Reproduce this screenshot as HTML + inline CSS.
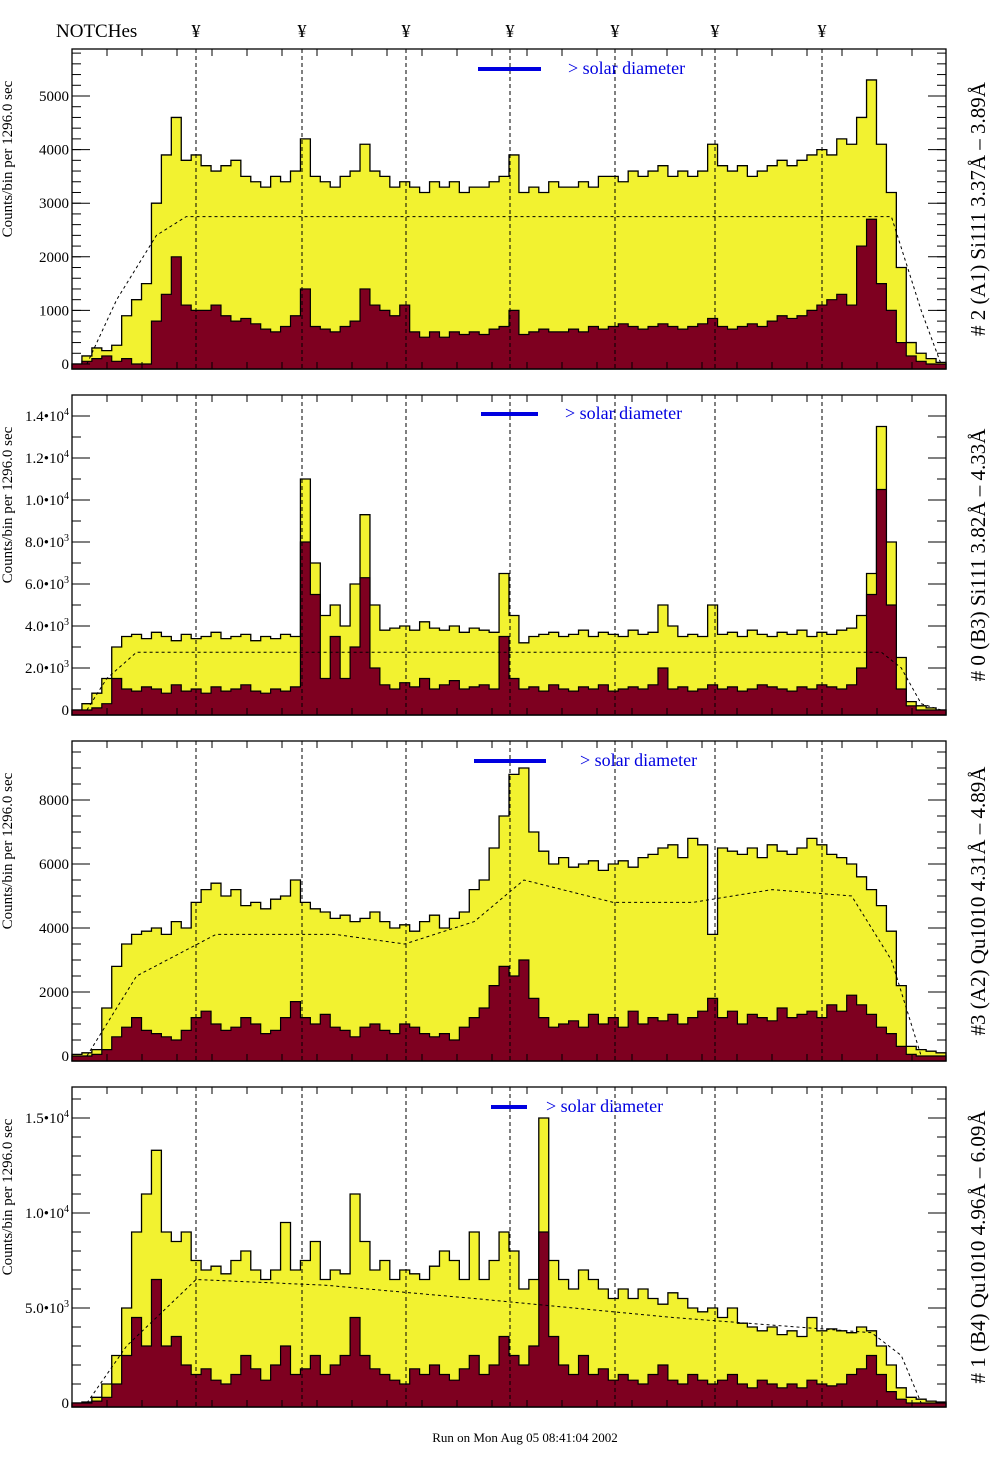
<!DOCTYPE html>
<html><head><meta charset="utf-8"><style>
body{margin:0;background:#fff;width:1004px;height:1476px;overflow:hidden}
svg{display:block}
text{font-family:"Liberation Serif",serif}
</style></head><body>
<svg id="c" width="1004" height="1476" viewBox="0 0 1004 1476"></svg>
<script>
const NS="http://www.w3.org/2000/svg";
const svg=document.getElementById('c');
const notchLabels=["¥","¥","¥","¥","¥","¥","¥"];
const notchX=[196,302,406,510,615,715,822];
// Panel 1
const y1=[0,150,300,250,350,900,1200,1500,3000,3900,4600,3800,3900,3700,3600,3700,3800,3500,3400,3300,3500,3400,3600,4200,3500,3400,3300,3500,3600,4100,3600,3500,3300,3400,3300,3200,3400,3300,3400,3200,3300,3300,3400,3500,3900,3200,3300,3200,3400,3300,3300,3400,3300,3500,3500,3400,3600,3500,3600,3700,3500,3600,3500,3600,4100,3700,3600,3700,3500,3600,3700,3800,3700,3800,3900,4000,3900,4200,4100,4600,5300,4100,3200,1800,400,200,100,30];
const r1=[0,50,100,150,50,100,0,0,800,1300,2000,1100,1000,1000,1100,900,800,850,750,650,600,700,900,1400,700,650,600,700,800,1400,1100,1000,900,1100,600,500,600,500,600,550,600,550,650,700,1000,550,600,650,600,600,650,600,700,650,700,750,700,650,700,750,700,650,700,750,850,700,650,700,750,700,800,900,850,900,1000,1100,1200,1300,1100,2200,2700,1500,1000,400,150,50,0,0];
const e1Bins=[1,4,8,11,82,85,87];
const e1Vals=[0,1200,2400,2750,2750,1000,0];
// Panel 2
const y2=[0,300,800,1500,3000,3500,3600,3400,3700,3500,3300,3600,3400,3500,3700,3400,3500,3600,3300,3500,3400,3600,3500,11000,7000,4500,5000,4000,6000,9300,5000,3800,3900,4000,3800,4200,3900,3800,4000,3700,3900,3800,3700,6500,4500,3200,3500,3600,3700,3500,3600,3800,3500,3700,3600,3500,3800,3600,3700,5000,4000,3500,3600,3500,5000,3600,3700,3500,3800,3600,3500,3700,3600,3800,3500,3700,3600,3800,3900,4500,6500,13500,8000,2500,400,200,100,0];
const r2=[0,0,100,300,1500,1000,900,1100,1000,800,1200,900,1000,800,1100,900,1000,1200,900,800,1000,900,1100,8000,5500,1500,3500,1500,3000,6300,2000,1200,1000,1300,1100,1500,1000,1200,1400,1000,1100,1200,1000,3500,1500,1000,1100,900,1200,1000,900,1100,1000,1200,900,1000,1100,1000,1200,2000,1000,1100,900,1000,1200,1000,1100,900,1000,1200,1100,1000,900,1100,1000,1200,1100,1000,1200,2000,5500,10500,5000,1000,200,0,0,0];
const e2Bins=[1,3,6,81,83,85,87];
const e2Vals=[0,1500,2750,2750,2000,300,0];
// Panel 3
const y3=[50,100,200,1500,2800,3500,3800,3900,4000,3800,4200,4000,4800,5200,5400,5000,5200,4700,4800,4600,4900,5000,5500,4800,4600,4500,4300,4400,4200,4300,4500,4200,4000,4100,3900,4200,4400,4000,4300,4500,5200,5500,6500,7500,8800,9000,7000,6400,6000,6200,5900,6000,6100,5800,6000,6100,5900,6200,6300,6500,6600,6200,6800,6600,3800,6500,6400,6300,6500,6200,6600,6400,6300,6500,6800,6600,6300,6200,6000,5600,5200,4700,3900,2200,300,200,150,100];
const r3=[0,0,50,200,600,900,1200,800,700,600,500,800,1200,1400,1000,800,900,1200,1000,700,800,1200,1700,1200,1000,1300,900,800,600,900,1000,800,700,1000,900,700,600,700,500,900,1200,1500,2200,2800,2500,3000,1800,1200,900,1000,1100,900,1300,1000,1200,900,1400,1000,1200,1100,1300,1000,1200,1400,1800,1200,1400,1000,1300,1200,1100,1500,1200,1300,1400,1200,1600,1400,1900,1600,1300,900,700,300,50,0,0,0];
const e3Bins=[1,6,14,26,33,40,45,54,62,70,78,82,85,87];
const e3Vals=[0,2500,3800,3800,3500,4200,5500,4800,4800,5200,5000,3000,0,0];
// Panel 4
const y4=[0,50,300,1000,2500,5000,9000,11000,13300,9000,8500,9000,7500,7000,7200,6800,7500,8000,7000,6500,7000,9500,7000,7500,8500,6500,7000,6800,11000,8500,7000,7500,6500,7000,6800,6500,7200,8000,7500,6500,9000,6500,7500,9000,8000,6000,6500,15000,7500,6500,6000,7000,6500,6000,5500,6000,5500,6000,5500,5200,5800,5500,5000,4800,5000,4500,5000,4200,4000,3800,4000,3600,3800,3500,4500,3800,3900,3800,3700,4000,3800,3000,2000,800,300,200,100,50];
const r4=[0,0,100,300,1000,2500,4500,3000,6500,3000,3500,2000,1500,1800,1200,1000,1500,2500,1800,1200,2000,3000,1500,1800,2500,1500,2000,2500,4500,2500,1800,1500,1200,1000,1800,1500,2000,1500,1200,1800,2500,1500,2000,3500,2500,2000,3000,9000,3500,2000,1500,2500,1500,1800,1200,1500,1200,1000,1500,2000,1200,1000,1500,1200,1000,1200,1500,1000,800,1200,1000,800,1000,800,1200,1000,900,1000,1500,1800,2500,1500,600,200,0,0,0,0];
const e4Bins=[1,5,12,25,40,60,80,83,85,87];
const e4Vals=[0,3000,6500,6200,5500,4500,3700,2500,0,0];
// ticks
const t1=[0,1000,2000,3000,4000,5000];
const t1L=["0","1000","2000","3000","4000","5000"];
const t2=[0,2000,4000,6000,8000,10000,12000,14000];
const t2M=["0","2.0","4.0","6.0","8.0","1.0","1.2","1.4"];
const t2E=["","3","3","3","3","4","4","4"];
const t3=[0,2000,4000,6000,8000];
const t3L=["0","2000","4000","6000","8000"];
const t4=[0,5000,10000,15000];
const t4M=["0","5.0","1.0","1.5"];
const t4E=["","3","4","4"];

const X0=72,X1=946,NB=88,BW=(X1-X0)/NB;
function el(tag,attrs,parent){const e=document.createElementNS(NS,tag);for(const k in attrs)e.setAttribute(k,attrs[k]);(parent||svg).appendChild(e);return e;}
function xb(i){return X0+BW*i;}

const panels=[
 {top:49,bot:369,zeroY:364,pxPer:53.6/1000,y:y1,r:r1,eb:e1Bins,ev:e1Vals,ticks:t1,lab:t1L,minor:200,bar:[478,541,69],txt:568,title:"# 2 (A1) Si111  3.37Å – 3.89Å"},
 {top:395,bot:715,zeroY:710,pxPer:21/1000,y:y2,r:r2,eb:e2Bins,ev:e2Vals,ticks:t2,man:t2M,exp:t2E,minor:1000,bar:[481,538,414],txt:565,title:"# 0 (B3) Si111  3.82Å – 4.33Å"},
 {top:741,bot:1061,zeroY:1056,pxPer:32/1000,y:y3,r:r3,eb:e3Bins,ev:e3Vals,ticks:t3,lab:t3L,minor:500,bar:[474,546,761],txt:580,title:"#3 (A2) Qu1010  4.31Å – 4.89Å"},
 {top:1087,bot:1407,zeroY:1403,pxPer:19/1000,y:y4,r:r4,eb:e4Bins,ev:e4Vals,ticks:t4,man:t4M,exp:t4E,minor:1000,bar:[491,527,1107],txt:546,title:"# 1 (B4) Qu1010 4.96Å – 6.09Å"}
];

function vy(p,v){return Math.max(p.top,Math.min(p.bot,p.zeroY-v*p.pxPer));}
function stepPath(p,arr){let d="M"+X0+","+p.bot;for(let i=0;i<arr.length;i++){const yy=vy(p,arr[i]);d+=" L"+xb(i)+","+yy+" L"+xb(i+1)+","+yy;}d+=" L"+X1+","+p.bot+" Z";return d;}

const h=el('text',{x:56,y:37,'font-size':19});h.textContent="NOTCHes";


notchX.forEach((x,i)=>{const t=el('text',{x:x,y:37,'font-size':18,'text-anchor':'middle'});t.textContent=notchLabels[i];

});

panels.forEach((p,pi)=>{
 const g=el('g',{});
 
 
 const yp=el('path',{d:stepPath(p,p.y),fill:'#f2f230',stroke:'#000','stroke-width':1.3},g);
 
 
 const rp=el('path',{d:stepPath(p,p.r),fill:'#7e0020',stroke:'#000','stroke-width':1.2},g);
 
 
 let d="";p.eb.forEach((b,i)=>{d+=(i?" L":"M")+(xb(b)+BW/2)+","+vy(p,p.ev[i]);});
 const ep=el('path',{d:d,fill:'none',stroke:'#000','stroke-width':1,'stroke-dasharray':'3,3'},g);
 
 
 notchX.forEach(x=>{const l=el('line',{x1:x,x2:x,y1:p.top,y2:p.bot,stroke:'#000','stroke-width':1,'stroke-dasharray':'4,3'},g);
  
  });
 const fr=el('rect',{x:X0,y:p.top,width:X1-X0,height:p.bot-p.top,fill:'none',stroke:'#000','stroke-width':1.3},g);
 
 
 for(let v=0;v*p.pxPer<p.zeroY-p.top;v+=p.minor){const yy=p.zeroY-v*p.pxPer;
  el('line',{x1:X0,x2:X0+9,y1:yy,y2:yy,stroke:'#000'},g);el('line',{x1:X1,x2:X1-9,y1:yy,y2:yy,stroke:'#000'},g);}
 for(let v=-p.minor;p.zeroY-v*p.pxPer<p.bot;v-=p.minor){const yy=p.zeroY-v*p.pxPer;el('line',{x1:X0,x2:X0+9,y1:yy,y2:yy,stroke:'#000'},g);}
 for(let x=X0+35;x<X1;x+=35){el('line',{x1:x,x2:x,y1:p.top,y2:p.top+7,stroke:'#000'},g);el('line',{x1:x,x2:x,y1:p.bot,y2:p.bot-7,stroke:'#000'},g);}
 p.ticks.forEach((v,i)=>{const yy=p.zeroY-v*p.pxPer;
  el('line',{x1:X0,x2:X0+18,y1:yy,y2:yy,stroke:'#000'},g);el('line',{x1:X1,x2:X1-18,y1:yy,y2:yy,stroke:'#000'},g);
  const t=el('text',{x:X0-3,y:yy+5,'font-size':15,'text-anchor':'end'},g);
  if(p.lab){t.textContent=p.lab[i];}
  else if(p.exp[i]===""){t.textContent=p.man[i];}
  else{t.textContent=p.man[i]+"•10";const s=el('tspan',{dy:-6,'font-size':10},t);s.textContent=p.exp[i];}
  
  });
 const cy=(p.top+p.bot)/2-50;
 const yt=el('text',{x:0,y:0,'font-size':15,'text-anchor':'middle',transform:`translate(12,${cy}) rotate(-90)`},g);
 yt.textContent="Counts/bin per   1296.0 sec";
 
 
 const bl=el('line',{x1:p.bar[0],x2:p.bar[1],y1:p.bar[2],y2:p.bar[2],stroke:'#0000e0','stroke-width':4},g);
 
 
 const st=el('text',{x:p.txt,y:p.bar[2]+5,'font-size':18,fill:'#0000e0'},g);
 st.textContent="> solar diameter";
 
 
 const rt=el('text',{x:0,y:0,'font-size':21,'text-anchor':'middle',transform:`translate(985,${(p.top+p.bot)/2}) rotate(-90)`},g);
 rt.textContent=p.title;
 
 
});
const ft=el('text',{x:525,y:1442,'font-size':13,'text-anchor':'middle'});
ft.textContent="Run on Mon Aug 05 08:41:04 2002";


</script>
</body></html>
